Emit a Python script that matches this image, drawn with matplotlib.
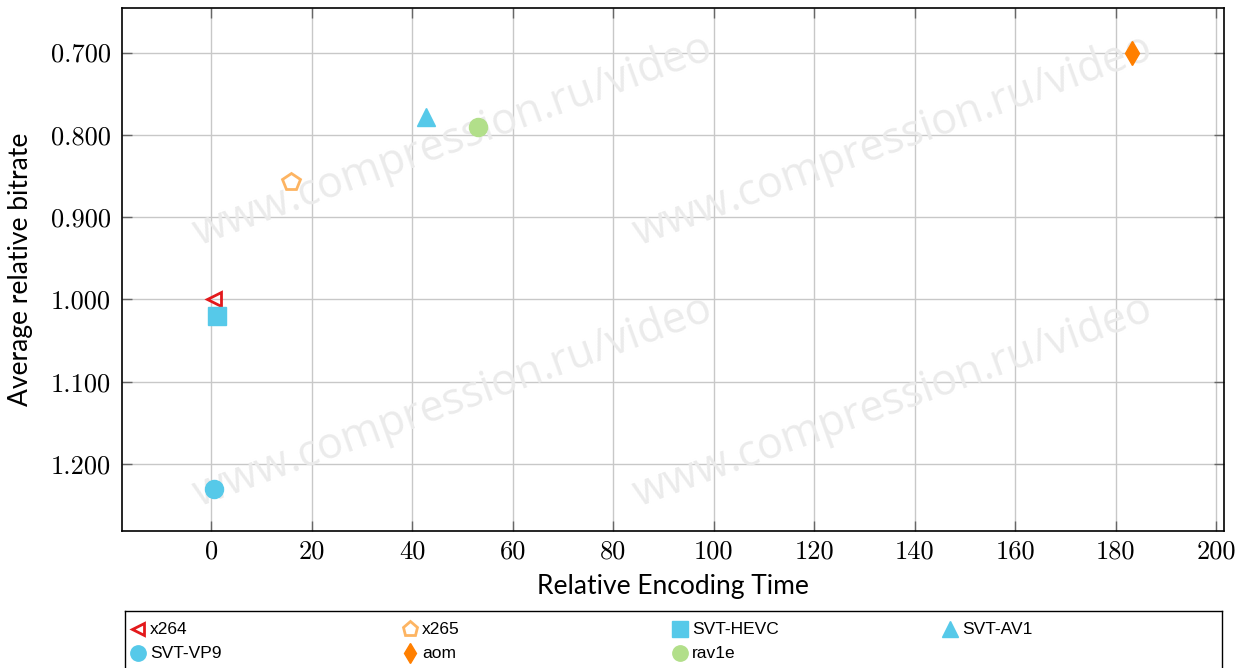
import numpy as np
import matplotlib.pyplot as plt

# data
codecs = ['x264', 'x265', 'SVT-HEVC', 'SVT-AV1', 'SVT-VP9', 'aom', 'rav1e']
enc_time = [0.6, 15.9, 1.1, 42.8, 0.6, 183.2, 53.1]
bitrate = [1.000, 0.857, 1.020, 0.778, 1.230, 0.700, 0.791]

markers = ['<', 'p', 's', '^', 'o', 'd', 'o']
colors = ['#e3191c', '#fdb462', '#56c9e9', '#56c9e9', '#56c9e9', '#ff7f00', '#b2df8a']
filled = [False, False, True, True, True, True, True]
msizes = [10, 13, 13, 13, 13, 12.5, 13]

xticks = np.arange(0, 201, 20)
yticks = [0.7, 0.8, 0.9, 1.0, 1.1, 1.2]

W, H = 1245, 668
fig = plt.figure(figsize=(W / 100, H / 100), dpi=100, facecolor='white')
ax = fig.add_axes([122.3 / W, 1 - 531.4 / H, (1224 - 122.3) / W, (531.4 - 8.2) / H])

for i in range(len(codecs)):
    if filled[i]:
        ax.plot(enc_time[i], bitrate[i], marker=markers[i], ms=msizes[i], color=colors[i],
                mec=colors[i], ls='none', zorder=3)
    else:
        ax.plot(enc_time[i], bitrate[i], marker=markers[i], ms=msizes[i], mfc='none',
                mec=colors[i], mew=2, ls='none', zorder=3)

ax.set_xlim(-17.7, 201.5)
ax.set_ylim(1.282, 0.6461)
ax.set_xticks(xticks)
ax.set_yticks(yticks)
ax.set_xticklabels([str(v) for v in xticks], fontfamily='cmr10', fontsize=19)
ax.set_yticklabels(['%.3f' % v for v in yticks], fontfamily='cmr10', fontsize=19)
ax.tick_params(direction='in', length=7, width=1, color='#666666', top=True, right=True)
ax.tick_params(axis='x', pad=6)
ax.tick_params(axis='y', pad=8)
ax.grid(True, color='#c8c8c8', lw=1)
ax.set_axisbelow(True)
for sp in ax.spines.values():
    sp.set_linewidth(1.2)
    sp.set_color('black')

ax.set_xlabel('Relative Encoding Time', fontfamily='Lato', fontsize=19)
ax.set_ylabel('Average relative bitrate', fontfamily='Lato', fontsize=19)
ax.xaxis.set_label_coords(0.5, -0.081)
ax.yaxis.set_label_coords(-0.081, 0.5)

# watermark
for wx, wy in [(0.300, 0.746), (0.6995, 0.746), (0.300, 0.247), (0.6995, 0.247)]:
    ax.text(wx, wy, 'www.compression.ru/video', transform=ax.transAxes, fontsize=31,
            fontfamily='Open Sans', color='#ebebeb', rotation=20, ha='center', va='center',
            rotation_mode='anchor', zorder=1)

# legend box under the plot
lax = fig.add_axes([125 / W, -12 / H, (1222 - 125) / W, (680 - 611) / H])
lax.set_xlim(125, 1222)
lax.set_ylim(680, 611)
lax.set_xticks([])
lax.set_yticks([])
for sp in lax.spines.values():
    sp.set_linewidth(1)
col_x = [138, 410, 680, 950]
row_y = [629, 653]
for i in range(len(codecs)):
    cx = col_x[i % 4]
    cy = row_y[i // 4]
    if filled[i]:
        lax.plot(cx, cy, marker=markers[i], ms=msizes[i] * 0.85, color=colors[i], ls='none')
    else:
        lax.plot(cx, cy, marker=markers[i], ms=msizes[i] * 0.85, mfc='none', mec=colors[i],
                 mew=2, ls='none')
    lax.text(cx + 12, cy, codecs[i], fontfamily='Liberation Sans', fontsize=12.5, va='center')

fig.savefig('out.png', dpi=100, facecolor='white')
